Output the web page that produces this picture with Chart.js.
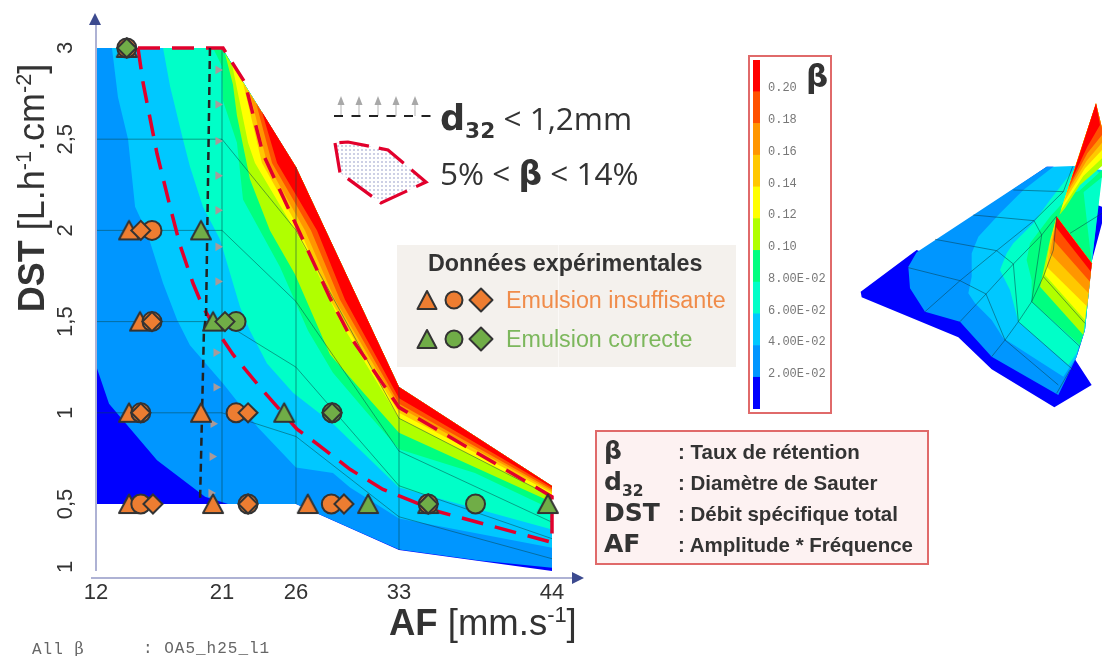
<!DOCTYPE html>
<html>
<head>
<meta charset="utf-8">
<title>AF / DST</title>
<script src="https://cdn.jsdelivr.net/npm/chart.js@4/dist/chart.umd.js"></script>
<style>
  html, body { margin: 0; background: #fff; }
  #page { position: relative; width: 1102px; height: 656px; overflow: hidden; font-family: "Liberation Sans", Arial, sans-serif; color: #333; filter: blur(0.5px); }
  #page > * { position: absolute; }
  .t { white-space: nowrap; line-height: 1; }
  .t sup { font-size: 60%; line-height: 0; }
  .os { font-family: "Open Sans", sans-serif; font-size: 31.5px; }
  .heavy { font-family: "DejaVu Sans", sans-serif; font-weight: bold; }
  .def { font-weight: bold; font-size: 20.5px; left: 678px; }
  .sym { font-family: "DejaVu Sans", sans-serif; font-weight: bold; font-size: 25px; left: 604px; }
  .sym sub { font-size: 62%; line-height: 0; }
  .box { box-sizing: border-box; border: 2px solid #e06a6a; }
</style>
</head>
<body>
<div id="page">
  <div style="left:397px;top:245px;width:339px;height:122px;background:#f4f1ed"></div>
  <div style="left:558px;top:245px;width:1px;height:122px;background:#fbf9f7"></div>
  <div class="box" style="left:595px;top:430px;width:334px;height:135px;background:#fdf2f2"></div>
  <div class="box" style="left:748px;top:55px;width:84px;height:359px;background:#fff"></div>

  <canvas id="mainChart" width="1102" height="656" style="left:0;top:0"></canvas>
  <canvas id="barChart" width="84" height="359" style="left:748px;top:55px"></canvas>
  <canvas id="surfaceChart" width="252" height="330" style="left:850px;top:90px"></canvas>

  <svg width="1102" height="656" style="left:0;top:0">
    <defs>
      <pattern id="dots" width="4" height="4" patternUnits="userSpaceOnUse">
        <circle cx="2" cy="2" r="0.8" fill="#8d93c4"/>
      </pattern>
      <g id="tri"><polygon points="0,-9 9.5,9 -9.5,9" stroke="#333" stroke-width="2" stroke-linejoin="round"/></g>
      <g id="cir"><circle r="8.5" stroke="#333" stroke-width="2"/></g>
      <g id="dia"><polygon points="0,-11.5 11.5,0 0,11.5 -11.5,0" stroke="#333" stroke-width="2" stroke-linejoin="round"/></g>
      <g id="upArrow">
        <line x1="0" y1="4" x2="0" y2="15" stroke="#b5b5b5" stroke-width="1"/>
        <polygon points="0,-5 3.5,4 -3.5,4" fill="#a8a8a8"/>
      </g>
    </defs>
    <use href="#upArrow" x="341" y="101"/><use href="#upArrow" x="359" y="101"/><use href="#upArrow" x="378" y="101"/>
    <use href="#upArrow" x="396" y="101"/><use href="#upArrow" x="415" y="101"/>
    <line x1="334" y1="116" x2="431" y2="116" stroke="#222" stroke-width="2" stroke-dasharray="9 8.5"/>
    <polygon points="335,143 340,173 381,203 426,182 388,150 348,142" fill="url(#dots)" stroke="#e2002c" stroke-width="3.2" stroke-dasharray="30 10"/>
    <g fill="#ed7d31">
      <use href="#tri" x="427" y="300"/><use href="#cir" x="454" y="300"/><use href="#dia" x="481" y="300"/>
    </g>
    <g fill="#70ad47">
      <use href="#tri" x="427" y="339"/><use href="#cir" x="454" y="339"/><use href="#dia" x="481" y="339"/>
    </g>
  </svg>

  <div class="t" style="left:-94px;top:170px;width:252px;text-align:center;font-size:36px;transform:rotate(-90deg)"><b>DST</b> [L.h<sup>-1</sup>.cm<sup>-2</sup>]</div>
  <div class="t" style="left:389px;top:605px;font-size:36.5px"><b>AF</b> [mm.s<sup>-1</sup>]</div>

  <div class="t os" style="left:440px;top:101px"><span class="heavy" style="font-size:35px">d<sub style="font-size:62%;line-height:0">32</sub></span> &lt; 1,2mm</div>
  <div class="t os" style="left:440px;top:157px">5% &lt; <span class="heavy" style="font-size:33px">β</span> &lt; 14%</div>

  <div class="t" style="left:428px;top:252px;font-size:23.3px;font-weight:bold">Données expérimentales</div>
  <div class="t" style="left:506px;top:289px;font-size:23.3px;color:#f08c4a">Emulsion insuffisante</div>
  <div class="t" style="left:506px;top:328px;font-size:23.3px;color:#7cb75c">Emulsion correcte</div>

  <div class="t sym" style="top:438px">β</div>
  <div class="t sym" style="top:469px">d<sub>32</sub></div>
  <div class="t sym" style="top:500px">DST</div>
  <div class="t sym" style="top:531px">AF</div>
  <div class="t def" style="top:442px">: Taux de rétention</div>
  <div class="t def" style="top:473px">: Diamètre de Sauter</div>
  <div class="t def" style="top:504px">: Débit spécifique total</div>
  <div class="t def" style="top:535px">: Amplitude * Fréquence</div>

  <div class="t heavy" style="left:806px;top:61px;font-size:31px">β</div>
  <div class="t" style="left:32px;top:641px;font-family:'Liberation Mono',monospace;font-size:16px;letter-spacing:1px;color:#666">All <span style="font-family:'DejaVu Serif',serif">β</span></div>
  <div class="t" style="left:143px;top:641px;font-family:'Liberation Mono',monospace;font-size:16px;letter-spacing:1px;color:#666">: OA5_h25_l1</div>
</div>

<script>
const xTicks = [12, 21, 26, 33, 44];
const yTicks = [3, 2.5, 2, 1.5, 1, 0.5, 0.155];
const yTickLabels = ['3', '2,5', '2', '1,5', '1', '0,5', '1'];

const colBlue = '#0000ff', col02 = '#0096ff', col04 = '#00c8ff', col06 = '#00ffc8', col08 = '#00ff80',
  col10 = '#b0ff00', col12 = '#ffff00', col14 = '#ffc800', col16 = '#ff9600', col18 = '#ff5000', col20 = '#ff0000';

// mesh outline
const outlineX = [12, 21, 26, 33, 44, 44, 33, 26, 12, 12];
const outlineY = [3, 3, 2.348, 1.141, 0.599, 0.133, 0.248, 0.5, 0.5, 3];
const edgeX = [21, 26, 33, 44];
const edgeY = [3, 2.348, 1.141, 0.599];

// iso beta lines
const c02X = [12, 12, 12.93, 16.36, 19.79, 21.41, 26, 33, 38.8, 44];
const c02Y = [3, 1.26, 1.05, 0.74, 0.54, 0.5, 0.5, 0.25, 0.19, 0.15];
const c04X = [13.14, 13.57, 14.29, 14.79, 15.64, 16.79, 17.79, 18.71, 21.07, 23.43, 26, 28.51, 29.67, 33, 44];
const c04Y = [3, 2.73, 2.5, 2.13, 1.99, 1.71, 1.51, 1.37, 1.16, 0.92, 0.7, 0.67, 0.59, 0.42, 0.26];
const c06X = [16.79, 17.29, 18.21, 18.71, 19.64, 20.86, 22.22, 22.89, 24.04, 25.8, 28.51, 33, 44];
const c06Y = [3, 2.79, 2.5, 2.35, 2.13, 1.95, 1.58, 1.45, 1.27, 1.11, 0.94, 0.59, 0.36];
const c08X = [20.36, 21, 21.07, 22.01, 22.42, 24.92, 26.82, 28.51, 30.83, 33, 38.46, 44];
const c08Y = [3, 2.9, 2.71, 2.48, 2.17, 1.8, 1.45, 1.22, 1, 0.8, 0.67, 0.47];
const c10X = [21.2, 21.74, 22.01, 22.89, 24.24, 25.93, 28.31, 30.69, 33, 44];
const c10Y = [2.97, 2.8, 2.63, 2.28, 2, 1.76, 1.32, 1.1, 0.89, 0.51];
const c12X = [21.68, 22.76, 23.23, 25.93, 27.16, 28.99, 33, 44];
const c12Y = [2.91, 2.48, 2.37, 2, 1.82, 1.5, 0.97, 0.54];
const c14X = [22.42, 23.7, 26.27, 28.31, 33, 44];
const c14Y = [2.81, 2.37, 2, 1.62, 1, 0.56];
const c16X = [22.89, 24.04, 26.61, 28.65, 33, 44];
const c16Y = [2.75, 2.37, 2, 1.62, 1.03, 0.57];
const c18X = [23.3, 24.38, 27.02, 28.99, 33, 44];
const c18Y = [2.7, 2.37, 2, 1.62, 1.05, 0.58];
const c20X = [23.7, 24.72, 27.43, 29.33, 33, 44];
const c20Y = [2.65, 2.37, 2, 1.62, 1.08, 0.59];

// mesh rows
const row25Y = [2.5, 2.5, 2, 0.97, 0.54];
const row20Y = [2, 2, 1.61, 0.79, 0.4];
const row15Y = [1.5, 1.5, 1.25, 0.6, 0.31];
const row10Y = [1, 1, 0.87, 0.43, 0.2];
const colTopY = [3, 2.348, 1.141];
const colBottomY = [0.5, 0.5, 0.248];

// 5% < beta < 14% zone
const zoneX = [15, 21.07, 22.55, 23.77, 28.31, 29.67, 33, 44, 44, 35.73, 31.91, 29.67, 27.43, 26.07, 23.57, 21.74, 20.64, 19.64, 18.93, 18, 17.29, 16.36, 15.36, 15];
const zoneY = [3, 3, 2.81, 2.42, 1.63, 1.42, 1.03, 0.54, 0.29, 0.46, 0.58, 0.69, 0.83, 0.91, 1.14, 1.32, 1.45, 1.58, 1.71, 1.92, 2.13, 2.42, 2.81, 3];

// d32 limit and its arrows
const limitX = [20.14, 19.86, 19.71, 19.43];
const limitY = [3, 1.53, 1.45, 0.51];
const arrowX = [20.71, 20.71, 20.71, 20.71, 20.71, 20.71, 20.71, 20.57, 20.57, 20.36, 20.29, 20.21];
const arrowY = [2.88, 2.69, 2.49, 2.3, 2.11, 1.91, 1.72, 1.33, 1.14, 0.94, 0.76, 0.56];

// experiments
const orangeTriX = [14.2, 14.36, 15.14, 14.36, 19.5, 14.36, 20.36, 26.8];
const orangeTriY = [3, 2, 1.5, 1, 1, 0.5, 0.5, 0.5];
const orangeCirX = [14.2, 16, 16, 15.2, 21.95, 15.2, 22.76, 28.4, 35.1];
const orangeCirY = [3, 2, 1.5, 1, 1, 0.5, 0.5, 0.5, 0.5];
const orangeDiaX = [15.2, 16, 15.2, 22.76, 16.07, 22.76, 29.26];
const orangeDiaY = [2, 1.5, 1, 1, 0.5, 0.5, 0.5];
const greenTriX = [19.5, 20.36, 25.2, 30.9, 35.1, 43.7];
const greenTriY = [2, 1.5, 1, 0.5, 0.5, 0.5];
const greenCirX = [21.95, 28.45, 38.5];
const greenCirY = [1.5, 1, 0.5];
const greenDiaX = [14.2, 21.2, 28.45, 35.1];
const greenDiaY = [3, 1.5, 1, 0.5];

// colour bar
const barColors = [colBlue, col02, col04, col06, col08, col10, col12, col14, col16, col18, col20];
const barStep = [0.02];
const barTicks = [0.02, 0.04, 0.06, 0.08, 0.10, 0.12, 0.14, 0.16, 0.18, 0.20];
const barTickLabels = ['2.00E-02', '4.00E-02', '6.00E-02', '8.00E-02', '0.10', '0.12', '0.14', '0.16', '0.18', '0.20'];

// 3d view of the same surface, in view coordinates
const viewBack = [[660, 315], [756, 350], [756, 400], [725, 515], [625, 375]];
const viewBase = [[32, 605], [35, 622], [325, 742], [425, 838], [613, 952], [725, 885], [670, 800], [500, 600], [200, 480]];
const view00 = [[590, 230], [35, 605], [225, 665], [330, 695], [425, 800], [625, 915], [680, 800], [705, 720], [725, 520], [700, 400], [610, 230]];
const view02 = [[590, 230], [200, 487], [175, 530], [180, 595], [225, 665], [330, 695], [425, 800], [625, 915], [680, 800], [705, 720], [725, 520], [700, 400], [610, 230]];
const view04 = [[610, 230], [520, 300], [450, 370], [385, 440], [365, 490], [365, 560], [355, 610], [375, 640], [425, 690], [460, 745], [640, 860], [680, 800], [725, 520], [756, 240], [670, 228]];
const view06 = [[670, 240], [600, 330], [550, 400], [490, 460], [470, 490], [450, 540], [480, 600], [505, 695], [655, 825], [680, 790], [705, 720], [725, 520], [756, 260], [740, 240]];
const view08 = [[665, 310], [600, 380], [540, 460], [530, 510], [545, 570], [545, 635], [690, 765], [700, 730], [725, 520], [700, 300]];
const view10 = [[620, 380], [725, 520], [700, 735], [570, 590], [600, 450]];
const view12 = [[620, 380], [725, 520], [705, 690], [585, 555], [600, 460]];
const view14 = [[620, 380], [725, 520], [712, 650], [590, 530], [600, 460]];
const view16 = [[620, 380], [725, 520], [716, 610], [600, 490]];
const view18 = [[620, 380], [725, 520], [720, 575], [610, 450]];
const view20 = [[620, 380], [725, 520], [723, 545], [617, 410]];
const spike08 = [[640, 380], [680, 310], [756, 240], [756, 262], [665, 335]];
const spike10 = [[628, 375], [738, 40], [756, 115], [756, 228], [690, 285], [645, 355]];
const spike12 = [[632, 362], [738, 40], [756, 115], [756, 205], [700, 258], [650, 335]];
const spike14 = [[640, 340], [738, 40], [756, 115], [756, 180], [705, 235], [655, 315]];
const spike16 = [[648, 315], [738, 40], [756, 115], [756, 158], [710, 212], [660, 295]];
const spike18 = [[655, 295], [738, 40], [756, 115], [756, 135], [712, 190], [666, 275]];
const spike20 = [[664, 270], [738, 40], [750, 105], [712, 170], [672, 255]];
const viewLines = [
  [[225, 665], [330, 572], [440, 482], [552, 392], [640, 305], [668, 230]],
  [[330, 695], [408, 612], [490, 522], [575, 435], [620, 378]],
  [[425, 800], [465, 750], [505, 695], [545, 635], [580, 560], [610, 480], [620, 380]],
  [[490, 300], [640, 305]],
  [[370, 375], [552, 392]],
  [[255, 448], [440, 482], [490, 522], [505, 695]],
  [[175, 533], [330, 572], [408, 612], [465, 750], [625, 885]],
  [[505, 695], [670, 840]],
  [[545, 635], [690, 770]],
  [[580, 560], [705, 700]],
  [[552, 392], [575, 435], [545, 635]],
  [[620, 910], [660, 840]],
  [[660, 430], [756, 370]]
];

const pts = (xs, ys) => xs.map((x, i) => ({ x, y: ys[i] }));

// piecewise axis: the AF columns of the mesh are not evenly spread on the original
const afFractions = [0, 0.2763, 0.4386, 0.6645, 1];
class AfScale extends Chart.LinearScale {
  getPixelForValue(value) {
    let i = 0;
    while (i < xTicks.length - 2 && value > xTicks[i + 1]) i++;
    const t = (value - xTicks[i]) / (xTicks[i + 1] - xTicks[i]);
    return this.getPixelForDecimal(afFractions[i] + t * (afFractions[i + 1] - afFractions[i]));
  }
}
AfScale.id = 'af';
AfScale.defaults = Chart.LinearScale.defaults;
Chart.register(AfScale);

function band(xs, ys, color) {
  const data = pts(xs, ys);
  edgeX.slice().reverse().forEach((x, i) => {
    const k = edgeX.length - 1 - i;
    if (x > xs[0]) data.push({ x, y: edgeY[k] });
  });
  data.push({ x: xs[0], y: ys[0] });
  return shape(data, color);
}

function shape(data, color) {
  return { type: 'scatter', data, showLine: true, fill: 'shape', backgroundColor: color, borderWidth: 0, pointRadius: 0, clip: false };
}

function line(xs, ys, color, width, dash) {
  return { type: 'scatter', data: pts(xs, ys), showLine: true, fill: false, borderColor: color, borderWidth: width, borderDash: dash || [], pointRadius: 0, clip: false };
}

function marks(xs, ys, style, color, radius) {
  return { type: 'scatter', data: pts(xs, ys), pointStyle: style, backgroundColor: color, borderColor: '#333', borderWidth: 2, pointRadius: radius, clip: false };
}

// the built-in triangle sits off centre, the originals are centred on their point
function triangleIcon(color) {
  const c = document.createElement('canvas');
  c.width = 26;
  c.height = 26;
  const g = c.getContext('2d');
  g.beginPath();
  g.moveTo(13, 3.5);
  g.lineTo(23, 22);
  g.lineTo(3, 22);
  g.closePath();
  g.fillStyle = color;
  g.fill();
  g.strokeStyle = '#333';
  g.lineWidth = 2;
  g.lineJoin = 'round';
  g.stroke();
  return c;
}

const meshColor = 'rgba(10,70,70,0.5)';
const faintColor = 'rgba(10,70,70,0.2)';
const paintOrder = [
  shape(pts(outlineX, outlineY), colBlue),
  band(c02X, c02Y, col02),
  band(c04X, c04Y, col04),
  band(c06X, c06Y, col06),
  band(c08X, c08Y, col08),
  band(c10X, c10Y, col10),
  band(c12X, c12Y, col12),
  band(c14X, c14Y, col14),
  band(c16X, c16Y, col16),
  band(c18X, c18Y, col18),
  band(c20X, c20Y, col20),
  line([21, 21], [colTopY[0], colBottomY[0]], faintColor, 1),
  line([26, 26], [colTopY[1], colBottomY[1]], faintColor, 1),
  line([33, 33], [colTopY[2], colBottomY[2]], faintColor, 1),
  line(xTicks, row25Y, meshColor, 1),
  line(xTicks, row20Y, meshColor, 1),
  line(xTicks, row15Y, meshColor, 1),
  line(xTicks, row10Y, meshColor, 1),
  line(zoneX, zoneY, '#e2002c', 3.5, [22, 12]),
  line(limitX, limitY, '#222', 2.5, [8, 5]),
  { type: 'scatter', data: pts(arrowX, arrowY), pointStyle: 'triangle', rotation: 90, backgroundColor: '#a89a9a', borderWidth: 0, pointRadius: 5, clip: false },
  marks(orangeTriX, orangeTriY, triangleIcon('#ed7d31'), '#ed7d31', 12),
  marks(greenTriX, greenTriY, triangleIcon('#70ad47'), '#70ad47', 12),
  marks(orangeCirX, orangeCirY, 'circle', '#ed7d31', 9.5),
  marks(greenCirX, greenCirY, 'circle', '#70ad47', 9.5),
  marks(orangeDiaX, orangeDiaY, 'rectRot', '#ed7d31', 9.5),
  marks(greenDiaX, greenDiaY, 'rectRot', '#70ad47', 9.5)
];
paintOrder.forEach((d, i) => { d.order = paintOrder.length - i; });

// arrows of both axes and the rotated tick labels of DST
const axisDecor = {
  id: 'axisDecor',
  afterDraw(chart) {
    const { ctx, chartArea: a, scales } = chart;
    ctx.save();
    ctx.strokeStyle = '#aeb2d4';
    ctx.lineWidth = 2;
    ctx.beginPath();
    ctx.moveTo(a.left, 22);
    ctx.lineTo(a.left, a.bottom - 7);
    ctx.moveTo(a.left - 5, a.bottom);
    ctx.lineTo(a.right + 22, a.bottom);
    ctx.stroke();
    ctx.fillStyle = '#3c4a8f';
    ctx.beginPath();
    ctx.moveTo(a.left - 1, 13);
    ctx.lineTo(a.left + 5, 25);
    ctx.lineTo(a.left - 7, 25);
    ctx.fill();
    ctx.beginPath();
    ctx.moveTo(a.right + 32, a.bottom);
    ctx.lineTo(a.right + 20, a.bottom - 6);
    ctx.lineTo(a.right + 20, a.bottom + 6);
    ctx.fill();
    ctx.fillStyle = '#333';
    ctx.font = '22px "Liberation Sans"';
    ctx.textAlign = 'center';
    ctx.textBaseline = 'middle';
    yTicks.forEach((v, i) => {
      ctx.save();
      ctx.translate(66, scales.y.getPixelForValue(v));
      ctx.rotate(-Math.PI / 2);
      ctx.fillText(yTickLabels[i], 0, 0);
      ctx.restore();
    });
    ctx.restore();
  }
};

new Chart(document.getElementById('mainChart'), {
  type: 'scatter',
  data: { datasets: paintOrder },
  plugins: [axisDecor],
  options: {
    responsive: false,
    animation: false,
    layout: { padding: { top: 48, right: 550 } },
    plugins: { legend: { display: false }, tooltip: { enabled: false } },
    scales: {
      x: {
        type: 'af', min: 12, max: 44,
        grid: { display: false, drawTicks: false },
        border: { display: false },
        afterBuildTicks: s => { s.ticks = xTicks.map(value => ({ value })); },
        afterFit: s => { s.height = 78; },
        ticks: { autoSkip: false, maxRotation: 0, padding: 2, color: '#333', font: { family: 'Liberation Sans', size: 22 } }
      },
      y: {
        min: 0.0943, max: 3,
        grid: { display: false },
        border: { display: false },
        ticks: { display: false },
        afterFit: s => { s.width = 96; }
      }
    }
  }
});

// colour bar, one stacked bar
new Chart(document.getElementById('barChart'), {
  type: 'bar',
  data: {
    labels: ['β'],
    datasets: barColors.map(c => ({ data: barStep, backgroundColor: c, barPercentage: 1, categoryPercentage: 1 }))
  },
  options: {
    responsive: false,
    animation: false,
    layout: { padding: { top: 5, bottom: 5, left: 5 } },
    plugins: { legend: { display: false }, tooltip: { enabled: false } },
    scales: {
      x: { stacked: true, display: false },
      y: {
        stacked: true,
        position: 'right',
        min: 0, max: 0.22,
        grid: { display: false, drawTicks: false },
        border: { display: false },
        afterBuildTicks: s => { s.ticks = barTicks.map(v => ({ value: v + 0.0022 })); },
        afterFit: s => { s.width = 72; s.paddingTop = 0; s.paddingBottom = 0; },
        ticks: {
          autoSkip: false,
          padding: 8,
          color: '#777',
          font: { family: 'Liberation Mono', size: 12 },
          callback: (v, i) => barTickLabels[i]
        }
      }
    }
  }
});

// 3d view
const viewSets = [
  [viewBack, colBlue], [viewBase, colBlue], [view00, colBlue], [view02, col02], [view04, col04], [view06, col06], [view08, col08],
  [spike08, col08], [spike10, col10], [spike12, col12], [spike14, col14], [spike16, col16], [spike18, col18], [spike20, col20],
  [view10, col10], [view12, col12], [view14, col14], [view16, col16], [view18, col18], [view20, col20]
].map(([p, c]) => shape(p.map(q => ({ x: q[0], y: q[1] })).concat({ x: p[0][0], y: p[0][1] }), c));
const viewMesh = viewLines.map(l => ({
  type: 'scatter', data: l.map(q => ({ x: q[0], y: q[1] })), showLine: true, fill: false,
  borderColor: 'rgba(10,60,70,0.5)', borderWidth: 1, pointRadius: 0
}));
const viewAll = viewSets.concat(viewMesh);
viewAll.forEach((d, i) => { d.order = viewAll.length - i; d.clip = 0; });

new Chart(document.getElementById('surfaceChart'), {
  type: 'scatter',
  data: { datasets: viewAll },
  options: {
    responsive: false,
    animation: false,
    layout: { padding: 0 },
    plugins: { legend: { display: false }, tooltip: { enabled: false } },
    scales: {
      x: { display: false, min: 0, max: 756 },
      y: { display: false, min: 0, max: 990, reverse: true }
    }
  }
});
</script>
</body>
</html>
